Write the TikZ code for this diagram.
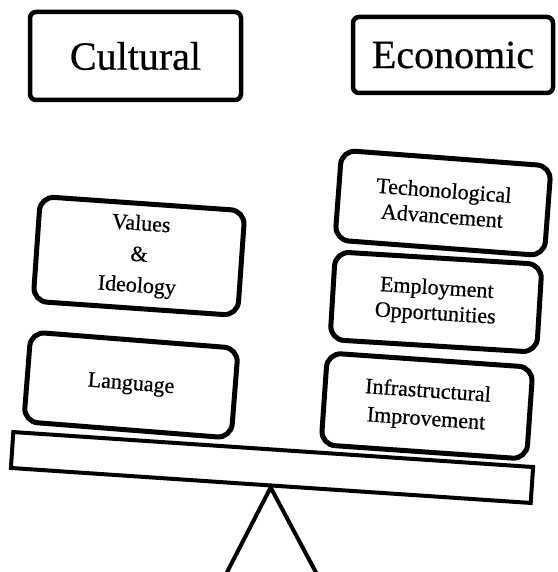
\documentclass[tikz,border=0pt]{standalone}
\usepackage{fontspec}
\setmainfont[FakeBold=0.6]{Liberation Serif}
\begin{document}
\begin{tikzpicture}[x=1pt,y=-1pt,
  topbox/.style={draw, line width=4.5pt, rounded corners=6pt, inner sep=0pt, font=\fontsize{40}{44}\selectfont},
  card/.style={draw, line width=5pt, rounded corners=14pt, inner sep=0pt, align=center},
  plankbox/.style={draw, line width=4pt, inner sep=0pt},
  pivot/.style={draw, line width=4pt, line join=miter}]
\useasboundingbox (0,0) rectangle (557,572);
\clip (0,0) rectangle (557,572);
\node[topbox, minimum width=211pt, minimum height=88pt] (cult) at (135.5,56) {Cultural};
\node[topbox, minimum width=200pt, minimum height=76pt] (econ) at (453,55) {Economic};
\node[card, rotate=-4, minimum width=205pt, minimum height=105pt, font=\fontsize{22}{31}\selectfont] (values) at (139,256) {Values\\\&\\Ideology};
\node[card, rotate=-4.5, minimum width=208pt, minimum height=90pt, font=\fontsize{22}{25}\selectfont] (lang) at (131,385) {Language};
\node[card, rotate=-4.3, minimum width=210pt, minimum height=90pt, font=\fontsize{22}{25.5}\selectfont] (tech) at (443,203) {Techonological\\Advancement};
\node[card, rotate=-3.5, minimum width=207pt, minimum height=88pt, font=\fontsize{22}{25.5}\selectfont] (emp) at (436,302) {Employment\\Opportunities};
\node[card, rotate=-4, minimum width=206pt, minimum height=92pt, font=\fontsize{22}{28}\selectfont] (infra) at (427,406) {Infrastructural\\Improvement};
\node[plankbox, rotate=-3.85, minimum width=521pt, minimum height=36pt] (plank) at (272,467.5) {};
\coordinate (bl) at (223,580);
\coordinate (br) at (320,580);
\draw[pivot] (plank.south) -- (bl) -- (br) -- cycle;
\end{tikzpicture}
\end{document}
